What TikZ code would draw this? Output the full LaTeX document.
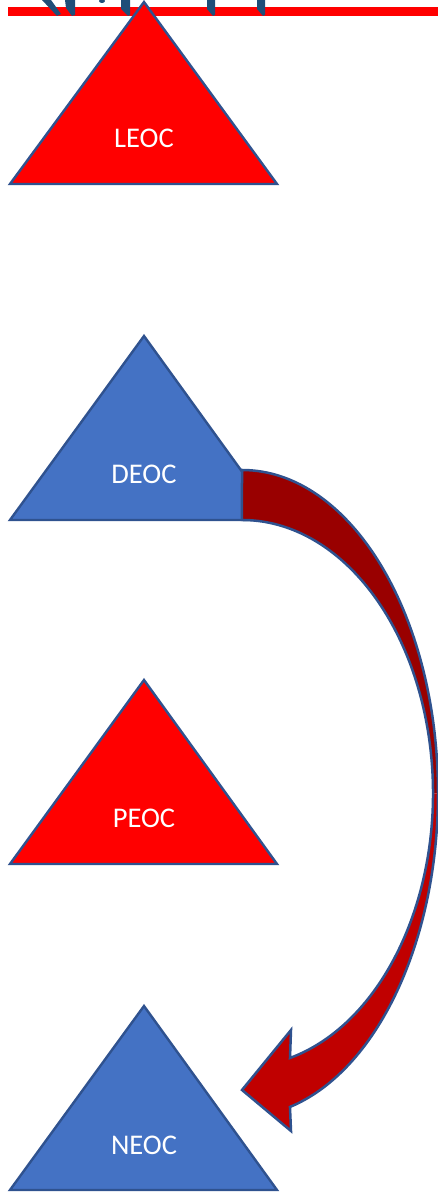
\documentclass[tikz,border=0pt]{standalone}
\usepackage{fontspec}
\setmainfont{Carlito}
\definecolor{tred}{HTML}{FF0000}
\definecolor{tblue}{HTML}{4472C4}
\definecolor{edgeblue}{HTML}{2F528F}
\definecolor{inkblue}{HTML}{1F4E79}
\definecolor{arrowdark}{HTML}{990000}
\definecolor{arrowlight}{HTML}{C00000}
\begin{document}
\begin{tikzpicture}[x=1pt,y=1pt,
  tri/.style={draw=edgeblue,line width=2.4pt,line join=miter},
  lbl/.style={text=white,font=\fontsize{28.5}{28.5}\selectfont,inner sep=0pt}]
\useasboundingbox (0,0) rectangle (438,1192);
% red line at top
\fill[tred] (8,1176) rectangle (438,1185);
% cut-off letters
\fill[inkblue] (42,1192) -- (51,1192) -- (61,1178) -- (57,1176) -- cycle;
\fill[inkblue] (65,1192) -- (75,1192) -- (75,1177) -- (72,1176) -- (66,1184) -- cycle;
\fill[inkblue] (102,1191) ellipse[x radius=3,y radius=2];
\fill[inkblue] (121,1192) -- (130,1192) -- (130,1177) -- (128,1176) -- (121,1183) -- cycle;
\fill[inkblue] (207,1192) -- (215,1192) -- (215,1177) -- (213,1176) -- (207,1183) -- cycle;
\fill[inkblue] (257,1192) -- (265,1192) -- (265,1177) -- (263,1176) -- (257,1183) -- cycle;
% triangles
\filldraw[tri,fill=tred] (10,1008) -- (277,1008) -- (144,1190) -- cycle;
\filldraw[tri,fill=tblue] (10,672) -- (277,672) -- (144,856) -- cycle;
\filldraw[tri,fill=tred] (10,328) -- (277,328) -- (144,512) -- cycle;
\filldraw[tri,fill=tblue] (10,2) -- (277,2) -- (144,186) -- cycle;
% curved arrow
\fill[arrowdark] (242,722) arc[start angle=90,end angle=0,x radius=196pt,y radius=323.4pt]
  -- (433,398.6) arc[start angle=0,end angle=90,x radius=191pt,y radius=273.4pt] -- cycle;
\fill[arrowlight] (438,398.6) arc[start angle=0,end angle=-75.83,x radius=196pt,y radius=323.4pt]
  -- (291,61) -- (242,102) -- (291,162) -- (290,134)
  arc[start angle=-75.44,end angle=0,x radius=191pt,y radius=273.4pt] -- cycle;
\draw[draw=edgeblue,line width=2.5pt,line join=miter]
  (242,722) arc[start angle=90,end angle=-75.83,x radius=196pt,y radius=323.4pt]
  -- (291,61) -- (242,102) -- (291,162) -- (290,134)
  arc[start angle=-75.44,end angle=90,x radius=191pt,y radius=273.4pt] -- cycle;
% labels
\node[lbl] (leoc) at (144,1054) {LEOC};
\node[lbl] (deoc) at (144,718) {DEOC};
\node[lbl] (peoc) at (144,374) {PEOC};
\node[lbl] (neoc) at (144,47) {NEOC};
\end{tikzpicture}
\end{document}
